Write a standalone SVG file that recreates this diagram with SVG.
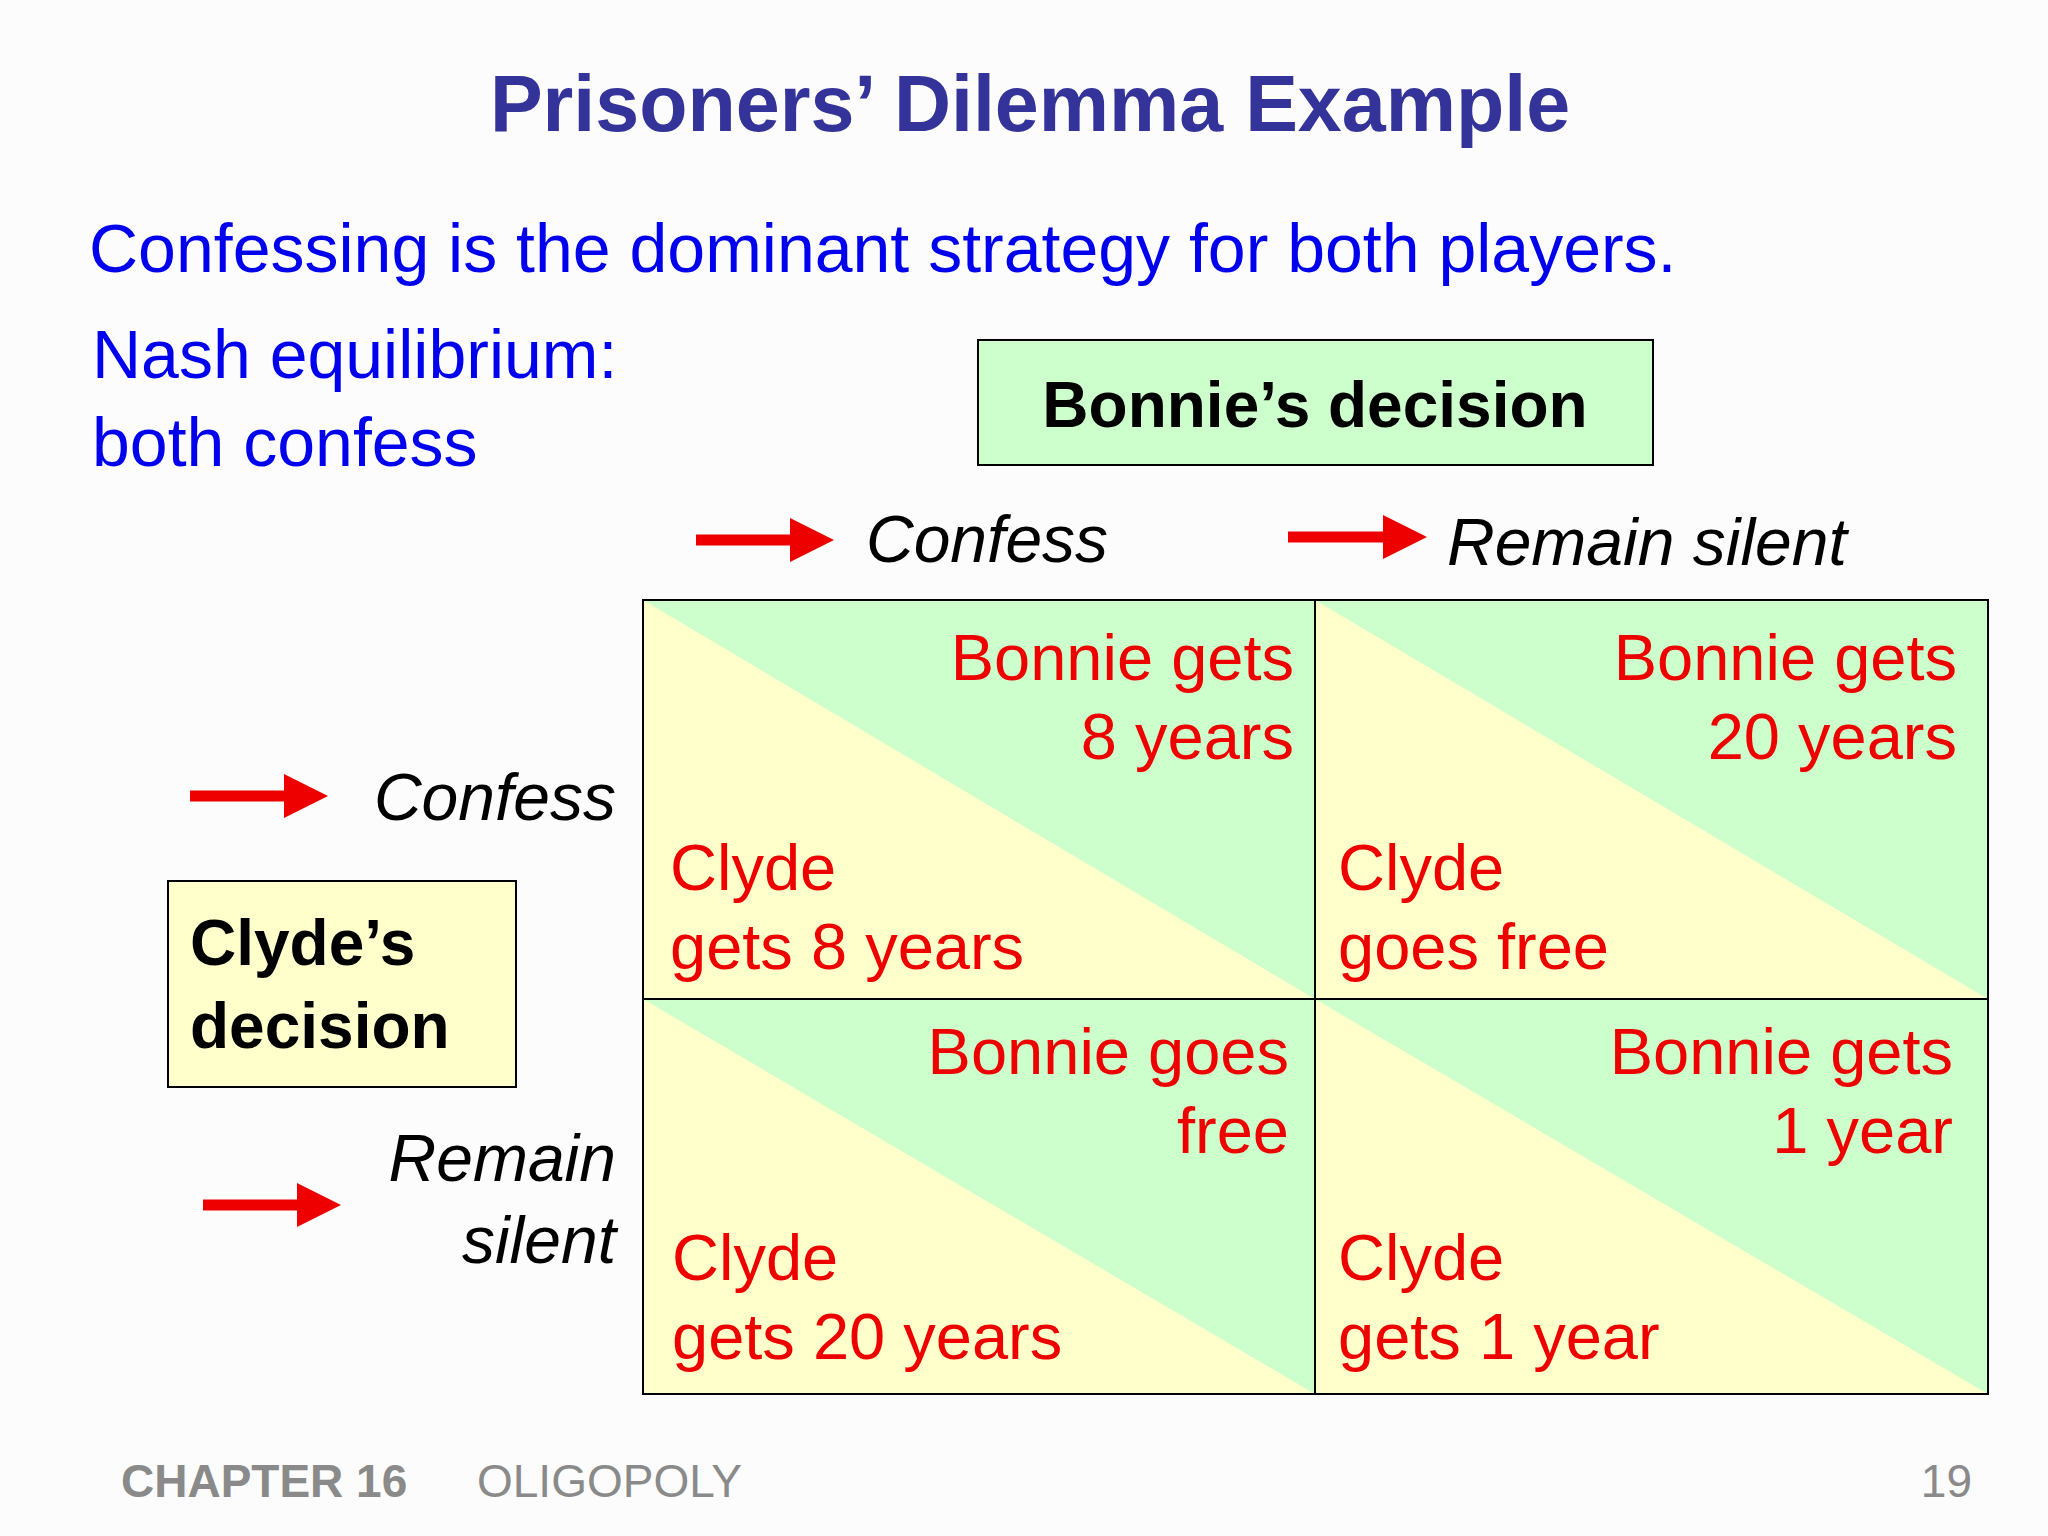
<svg xmlns="http://www.w3.org/2000/svg" width="2048" height="1536" viewBox="0 0 2048 1536">
<defs>
<style>
text{font-family:"Liberation Sans",Arial,sans-serif}
.b{fill:#0000ee;font-size:68px}
.r{fill:#ee0000;font-size:65px}
.i{font-style:italic;font-size:66px;fill:#000}
.k{font-weight:bold;font-size:64px;fill:#000}
.f{fill:#8a8a8a;font-size:46px}
.g{fill:#ccffcc}
.y{fill:#ffffcc}
.end{text-anchor:end}
</style>
<marker id="ah" markerWidth="4" markerHeight="4" refX="0" refY="2" orient="auto" markerUnits="strokeWidth"><path d="M0,0L4,2L0,4z" fill="#ee0000"/></marker>
</defs>
<rect width="2048" height="1536" fill="#fcfcfc"/>
<text x="1030" y="131" text-anchor="middle" font-weight="bold" font-size="79" fill="#333399">Prisoners’ Dilemma Example</text>
<text class="b" x="89" y="272">Confessing is the dominant strategy for both players.</text>
<text class="b" x="92" y="378">Nash equilibrium:</text>
<text class="b" x="92" y="466">both confess</text>
<g id="bonnie"><rect x="978" y="340" width="675" height="125" class="g" stroke="#000" stroke-width="2"/><text class="k" x="1315" y="427" text-anchor="middle">Bonnie’s decision</text></g>
<g id="clyde"><rect x="168" y="881" width="348" height="206" class="y" stroke="#000" stroke-width="2"/><text class="k" x="190" y="965">Clyde’s</text><text class="k" x="190" y="1048">decision</text></g>
<g id="labels">
<text class="i" x="866" y="562">Confess</text>
<text class="i" x="1447" y="565">Remain silent</text>
<text class="i end" x="616" y="820">Confess</text>
<text class="i end" x="616" y="1181">Remain</text>
<text class="i end" x="616" y="1263">silent</text>
</g>
<g id="connectors" stroke="#ee0000" stroke-width="11" marker-end="url(#ah)">
<line x1="696" y1="540" x2="790" y2="540"/>
<line x1="1288" y1="537" x2="1383" y2="537"/>
<line x1="190" y1="796" x2="284" y2="796"/>
<line x1="203" y1="1205" x2="297" y2="1205"/>
</g>
<g id="cell11"><rect x="643" y="600" width="672" height="399" class="y"/><path d="M643,600H1315V999z" class="g"/>
<text class="r end" x="1294" y="680">Bonnie gets</text><text class="r end" x="1294" y="759">8 years</text>
<text class="r" x="670" y="890">Clyde</text><text class="r" x="670" y="969">gets 8 years</text></g>
<g id="cell12"><rect x="1315" y="600" width="673" height="399" class="y"/><path d="M1315,600H1988V999z" class="g"/>
<text class="r end" x="1957" y="680">Bonnie gets</text><text class="r end" x="1957" y="759">20 years</text>
<text class="r" x="1338" y="890">Clyde</text><text class="r" x="1338" y="969">goes free</text></g>
<g id="cell21"><rect x="643" y="999" width="672" height="395" class="y"/><path d="M643,999H1315V1394z" class="g"/>
<text class="r end" x="1289" y="1074">Bonnie goes</text><text class="r end" x="1289" y="1153">free</text>
<text class="r" x="672" y="1280">Clyde</text><text class="r" x="672" y="1359">gets 20 years</text></g>
<g id="cell22"><rect x="1315" y="999" width="673" height="395" class="y"/><path d="M1315,999H1988V1394z" class="g"/>
<text class="r end" x="1953" y="1074">Bonnie gets</text><text class="r end" x="1953" y="1153">1 year</text>
<text class="r" x="1338" y="1280">Clyde</text><text class="r" x="1338" y="1359">gets 1 year</text></g>
<g id="grid" fill="none" stroke="#000" stroke-width="2"><rect x="643" y="600" width="1345" height="794"/><line x1="1315" y1="600" x2="1315" y2="1394"/><line x1="643" y1="999" x2="1988" y2="999"/></g>
<text class="f" x="121" y="1497" font-weight="bold">CHAPTER 16</text>
<text class="f" x="477" y="1497">OLIGOPOLY</text>
<text class="f end" x="1972" y="1497">19</text>
</svg>
